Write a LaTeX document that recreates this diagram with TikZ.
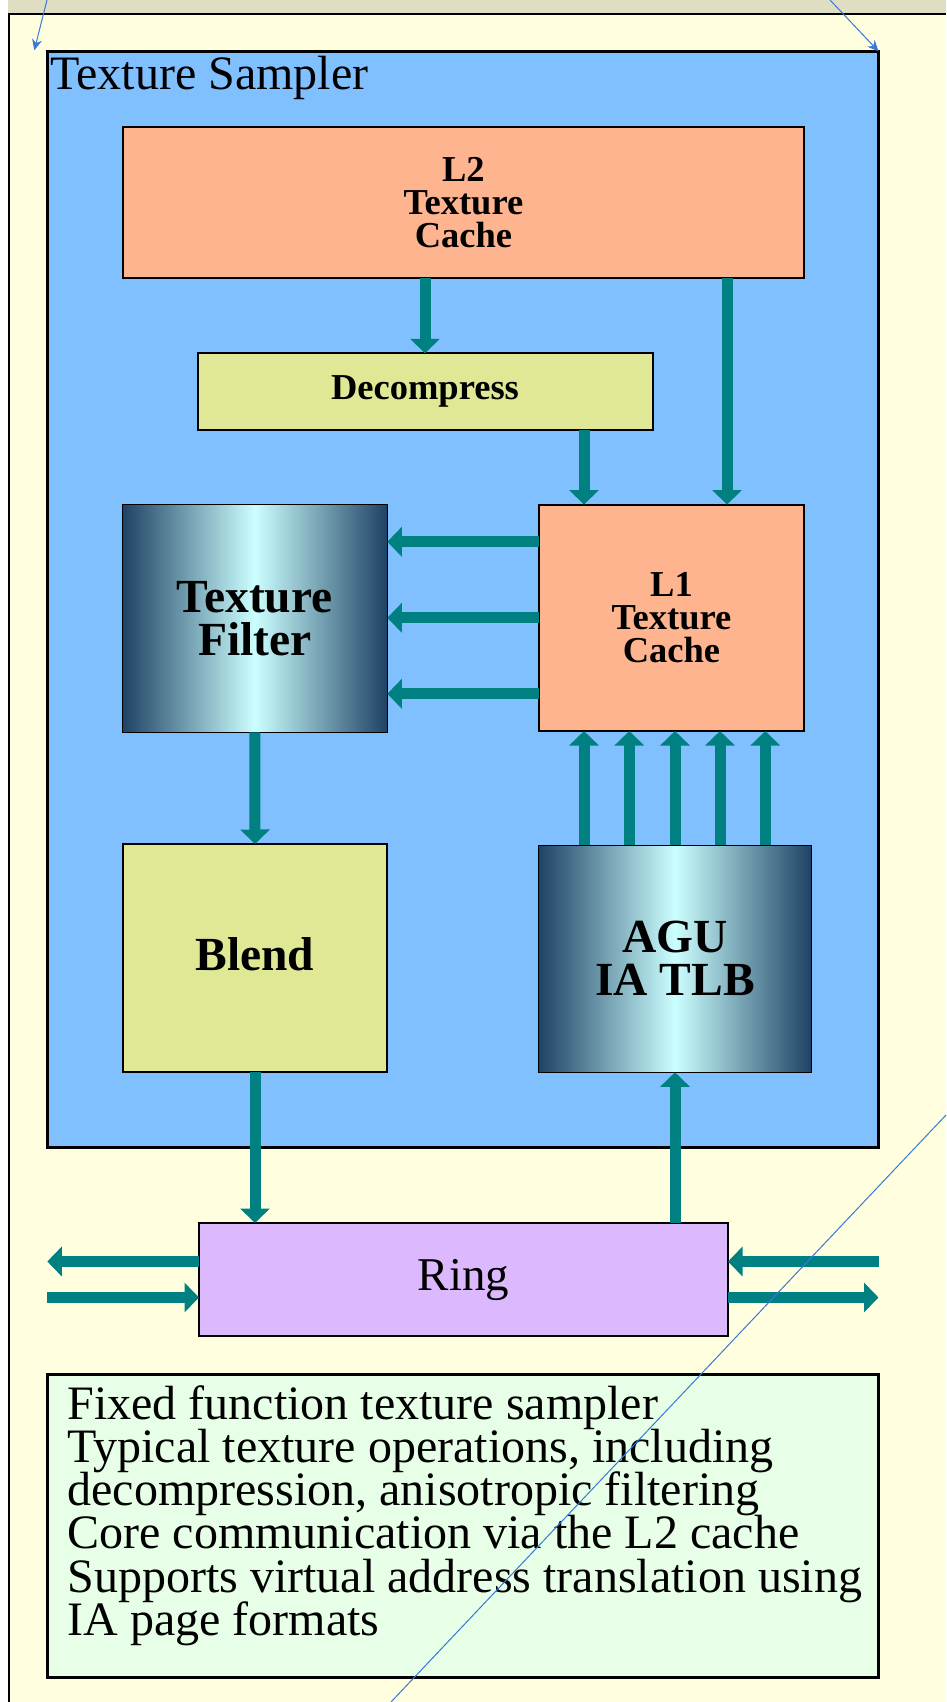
\documentclass[tikz,border=0pt]{standalone}
\usepackage{fontspec}
\setmainfont{Liberation Serif}
\usetikzlibrary{arrows.meta}
\setlength{\lineskiplimit}{-20pt}

\definecolor{paper}{RGB}{255,255,224}
\definecolor{band}{RGB}{223,222,194}
\definecolor{sky}{RGB}{128,192,255}
\definecolor{salmon}{RGB}{255,180,144}
\definecolor{lime}{RGB}{224,232,150}
\definecolor{lilac}{RGB}{220,184,255}
\definecolor{mint}{RGB}{230,255,230}
\definecolor{flowteal}{RGB}{0,128,128}
\definecolor{navy}{RGB}{30,66,100}
\definecolor{glow}{RGB}{204,255,255}
\definecolor{callout}{RGB}{58,120,216}

\begin{document}
\begin{tikzpicture}[x=1pt, y=-1pt,
    box/.style={draw=black, line width=2pt, outer sep=0pt, inner sep=0pt, align=center},
    metal/.style={box, line width=0.8pt, left color=navy, right color=navy, middle color=glow},
    cachefont/.style={font=\fontsize{36.5}{33}\selectfont\bfseries},
    bigfont/.style={font=\fontsize{47.5}{43}\selectfont\bfseries},
    flow/.style={flowteal, line width=11pt, -{Triangle[length=14.5pt, width=29pt]}},
    pointer/.style={callout, line width=1pt, -{Stealth[length=11pt, width=10pt]}}]
\useasboundingbox (0, 0) rectangle (946, 1702);
\fill[white] (0, 0) rectangle (946, 1702);
\fill[paper] (9, 14) rectangle (946, 1702);
\fill[band] (8, 0) rectangle (946, 13.3);
\draw[line width=2pt] (9, 1702) -- (9, 14);
\draw[line width=1.5pt] (8, 14) -- (946, 14);

\node[box, line width=3pt, fill=sky, minimum width=831.2pt, minimum height=1096.2pt] (sampler) at (462.9, 599.4) {};
\node[anchor=base west, inner sep=0pt, font=\fontsize{48}{48}\selectfont] (title) at ([xshift=3pt, yshift=-38pt]sampler.north west) {Texture Sampler};

\node[box, fill=salmon, cachefont, minimum width=681.6pt, minimum height=150.8pt] (l2) at (463.4, 202.4) {L2\\Texture\\Cache};
\node[box, fill=lime, cachefont, minimum width=455pt, minimum height=76.2pt] (dec) at (425, 391.4) {Decompress};
\node[metal, bigfont, minimum width=265pt, minimum height=227.6pt] (tf) at (254.8, 618.5) {Texture\\Filter};
\node[box, fill=salmon, cachefont, minimum width=265pt, minimum height=226.5pt] (l1) at (671.5, 617.8) {L1\\Texture\\Cache};
\node[box, fill=lime, bigfont, text depth=8pt, minimum width=264.7pt, minimum height=228pt] (blend) at (255, 958) {Blend};
\node[metal, bigfont, minimum width=273.4pt, minimum height=227pt] (agu) at (675, 958.8) {AGU\\IA TLB};
\node[box, fill=lilac, font=\fontsize{47}{47}\selectfont, minimum width=529pt, minimum height=113pt] (ring) at (463.5, 1279.5) {Ring};

\node[box, line width=3pt, fill=mint, minimum width=831pt, minimum height=302.6pt] (notes) at (462.9, 1526) {};
\node[anchor=north west, inner sep=0pt, align=left, font=\fontsize{48}{43.3}\selectfont] (points) at ([xshift=20pt, yshift=-10.3pt]notes.north west) {Fixed function texture sampler\\Typical texture operations, including\\decompression, anisotropic filtering\\Core communication via the L2 cache\\Supports virtual address translation using\\IA page formats};

\draw[flow] (l2.south -| dec.north) -- (dec.north);
\draw[flow] ([xshift=55.5pt]l1.north |- l2.south) -- ([xshift=55.5pt]l1.north);
\draw[flow] ([xshift=-87.5pt]l1.north |- dec.south) -- ([xshift=-87.5pt]l1.north);
\foreach \dy in {76, 0, -76}
    \draw[flow] ([yshift=\dy pt]l1.west) -- ([yshift=\dy pt]l1.west -| tf.east);
\draw[flow] (tf.south) -- (blend.north);
\foreach \dx in {-91, -45.7, 0, 45, 90.3}
    \draw[flow] ([xshift=\dx pt]agu.north) -- ([xshift=\dx pt]agu.north |- l1.south);
\draw[flow] (blend.south) -- (blend.south |- ring.north);
\draw[flow] (agu.south |- ring.north) -- (agu.south);
\draw[flow] ([yshift=18pt]ring.west) -- ([yshift=18pt]ring.west -| sampler.west);
\draw[flow] ([yshift=-18pt]ring.west -| sampler.west) -- ([yshift=-18pt]ring.west);
\draw[flow] ([yshift=18pt]ring.east -| sampler.east) -- ([yshift=18pt]ring.east);
\draw[flow] ([yshift=-18pt]ring.east) -- ([yshift=-18pt]ring.east -| sampler.east);

\coordinate (leftcall) at (47, 0);
\coordinate (rightcall) at (830, 0);
\coordinate (slashtop) at (946, 1115);
\coordinate (slashend) at (391, 1702);
\draw[pointer] (leftcall) -- ([xshift=-13pt, yshift=1pt]sampler.north west);
\draw[pointer] (rightcall) -- (sampler.north east);
\draw[callout, line width=1pt] (slashtop) -- (slashend);
\end{tikzpicture}
\end{document}
